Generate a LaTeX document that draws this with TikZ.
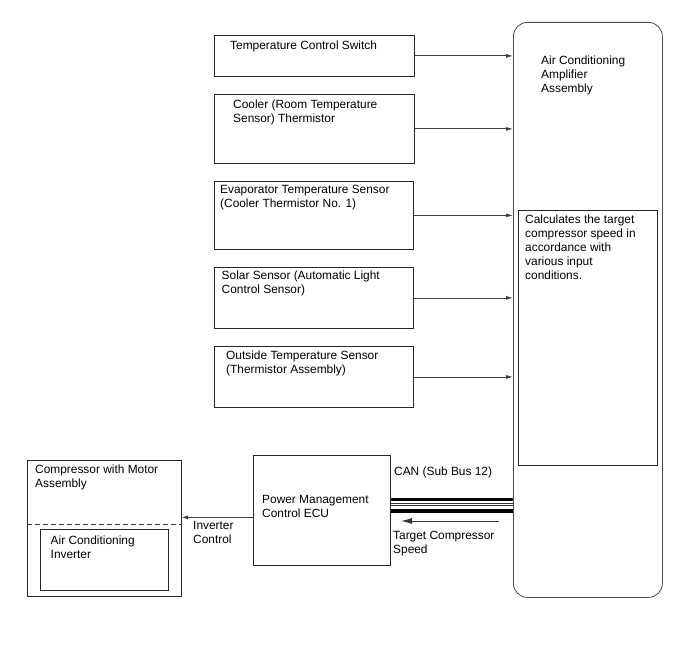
\documentclass[tikz,border=0pt]{standalone}
\usepackage{fontspec}
\setmainfont{Liberation Sans}
\usetikzlibrary{arrows.meta,calc}
\begin{document}
\begin{tikzpicture}[x=1pt,y=-1pt,
  box/.style={draw=black!85,line width=0.8pt,rectangle,inner sep=0pt,anchor=north west},
  lbl/.style={inner sep=0pt,anchor=north west,align=left,font=\fontsize{11.9}{14}\selectfont},
  arr/.style={draw=black!75,line width=0.8pt,-{Latex[length=7pt,width=4pt]}},
  thick bus/.style={line width=3.8pt,black},
  thin bus/.style={line width=0.9pt,black!80}]
\useasboundingbox (0,0) rectangle (688,658);
% Amplifier
\node[box,draw=black!70,rounded corners=14pt,minimum width=149pt,minimum height=575pt] (amp) at (513,22) {};
\node[lbl] (ampt) at (541,55.5) {Air Conditioning\\Amplifier\\Assembly};
\node[box,minimum width=139pt,minimum height=255pt] (calc) at (518,210) {};
\node[lbl] (calct) at (525,215) {Calculates the target\\compressor speed in\\accordance with\\various input\\conditions.};
% Input boxes
\node[box,minimum width=200pt,minimum height=41pt] (t1) at (214,35) {};
\node[lbl] at (230,40.5) {Temperature Control Switch};
\node[box,minimum width=200pt,minimum height=69pt] (t2) at (214,94) {};
\node[lbl] at (233,99.5) {Cooler (Room Temperature\\Sensor) Thermistor};
\node[box,minimum width=199pt,minimum height=68pt] (t3) at (214,181) {};
\node[lbl] at (220,184.5) {Evaporator Temperature Sensor\\(Cooler Thermistor No. 1)};
\node[box,minimum width=199pt,minimum height=61pt] (t4) at (214,267) {};
\node[lbl] at (221.5,271) {Solar Sensor (Automatic Light\\Control Sensor)};
\node[box,minimum width=199pt,minimum height=61pt] (t5) at (214,346) {};
\node[lbl] at (226,350.5) {Outside Temperature Sensor\\(Thermistor Assembly)};
\foreach \n in {t1,t2,t3,t4,t5}
  \draw[arr] (\n.east) -- (\n.east -| amp.west);
% ECU
\node[box,minimum width=137pt,minimum height=110pt] (ecu) at (253,455) {};
\node[lbl] at (262,495.5) {Power Management\\Control ECU};
% CAN bus
\draw[thick bus] ([yshift=11pt]ecu.east) -- ([yshift=11pt]ecu.east -| amp.west);
\draw[thin bus] ([yshift=6.8pt]ecu.east) -- ([yshift=6.8pt]ecu.east -| amp.west);
\draw[thin bus] ([yshift=4.5pt]ecu.east) -- ([yshift=4.5pt]ecu.east -| amp.west);
\draw[thick bus] ([yshift=-0.7pt]ecu.east) -- ([yshift=-0.7pt]ecu.east -| amp.west);
\node[lbl] at (394,466.5) {CAN (Sub Bus 12)};
\coordinate (ts) at (499,521);
\coordinate (te) at (401,521);
\draw[draw=black!80,line width=1pt,-{Latex[length=11pt,width=6pt]}] (ts) -- (te);
\node[lbl] at (393,531) {Target Compressor\\Speed};
% Compressor
\node[box,minimum width=154pt,minimum height=136pt] (comp) at (27,460) {};
\node[lbl] at (35,465) {Compressor with Motor\\Assembly};
\draw[dashed,draw=black!80,line width=0.8pt,dash pattern=on 5pt off 3pt] (comp.west |- 0,524) -- (comp.east |- 0,524);
\node[box,minimum width=128pt,minimum height=61pt] (inv) at (40,529) {};
\node[lbl] at (50.5,536) {Air Conditioning\\Inverter};
\draw[arr,-{Latex[length=6pt,width=4pt]}] ([yshift=-7pt]ecu.west) -- ([yshift=-7pt]ecu.west -| comp.east);
\node[lbl] at (193,521) {Inverter\\Control};
\end{tikzpicture}
\end{document}
